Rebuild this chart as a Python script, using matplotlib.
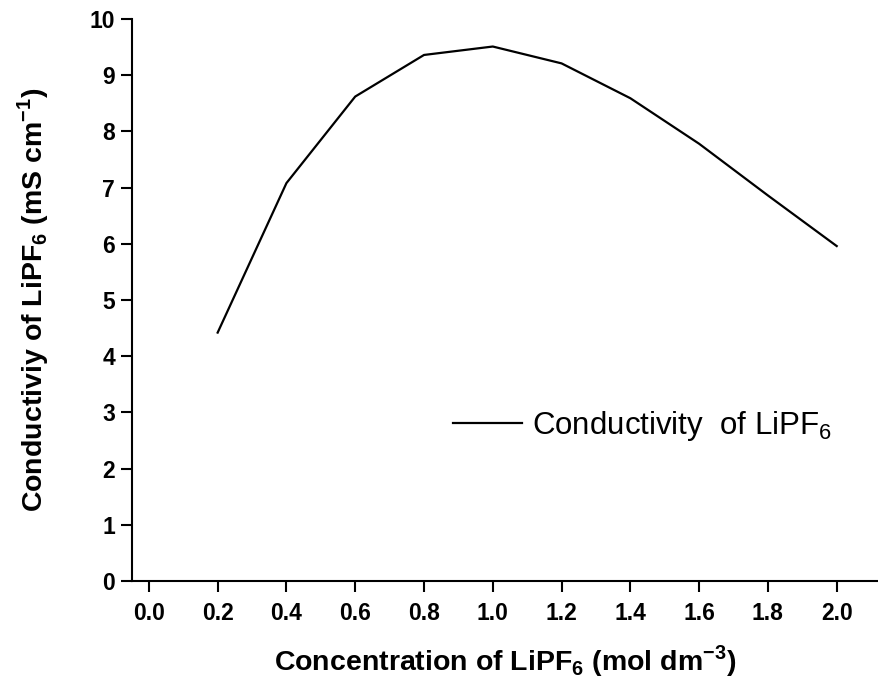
import matplotlib
matplotlib.use('Agg')
import matplotlib.pyplot as plt

# data
concentration = [0.2, 0.4, 0.6, 0.8, 1.0, 1.2, 1.4, 1.6, 1.8, 2.0]
conductivity = [4.42, 7.08, 8.62, 9.36, 9.51, 9.21, 8.59, 7.78, 6.86, 5.96]

x_ticks = [0.0, 0.2, 0.4, 0.6, 0.8, 1.0, 1.2, 1.4, 1.6, 1.8, 2.0]
y_ticks = list(range(0, 11))

plt.rcParams['font.family'] = 'Liberation Sans'
plt.rcParams['mathtext.fontset'] = 'custom'
plt.rcParams['mathtext.rm'] = 'Liberation Sans'
plt.rcParams['mathtext.bf'] = 'Liberation Sans:bold'

fig = plt.figure(figsize=(8.79, 6.88), dpi=100)
ax = fig.add_axes([0.1498, 0.1555, 0.8502, 0.8169])

ax.plot(concentration, conductivity, color='black', lw=1.6,
        label=r'Conductivity  of LiPF$_{6}$')

ax.set_xlim(-0.05, 2.123)
ax.set_ylim(0, 10)
ax.set_xticks(x_ticks)
ax.set_xticklabels(['%.1f' % v for v in x_ticks])
ax.set_yticks(y_ticks)

for s in ['top', 'right']:
    ax.spines[s].set_visible(False)
for s in ['left', 'bottom']:
    ax.spines[s].set_linewidth(1.5)

ax.tick_params(axis='both', direction='out', length=8, width=1.5,
               labelsize=16.5, pad=4)
ax.tick_params(axis='x', pad=7)
for lab in ax.get_xticklabels() + ax.get_yticklabels():
    lab.set_fontweight('bold')

ax.set_xlabel(r'Concentration of LiPF$_{\mathbf{6}}$ (mol dm$^{\mathbf{-3}}$)',
              fontsize=20.5, fontweight='bold', labelpad=13)
ax.set_ylabel(r'Conductiviy of LiPF$_{\mathbf{6}}$ (mS cm$^{\mathbf{-1}}$)',
              fontsize=20.5, fontweight='bold', labelpad=28)

leg = ax.legend(loc='center left', bbox_to_anchor=(0.393, 0.276), frameon=False,
                fontsize=22.5, handlelength=2.2, handletextpad=0.3)

fig.savefig('out.png', dpi=100)
